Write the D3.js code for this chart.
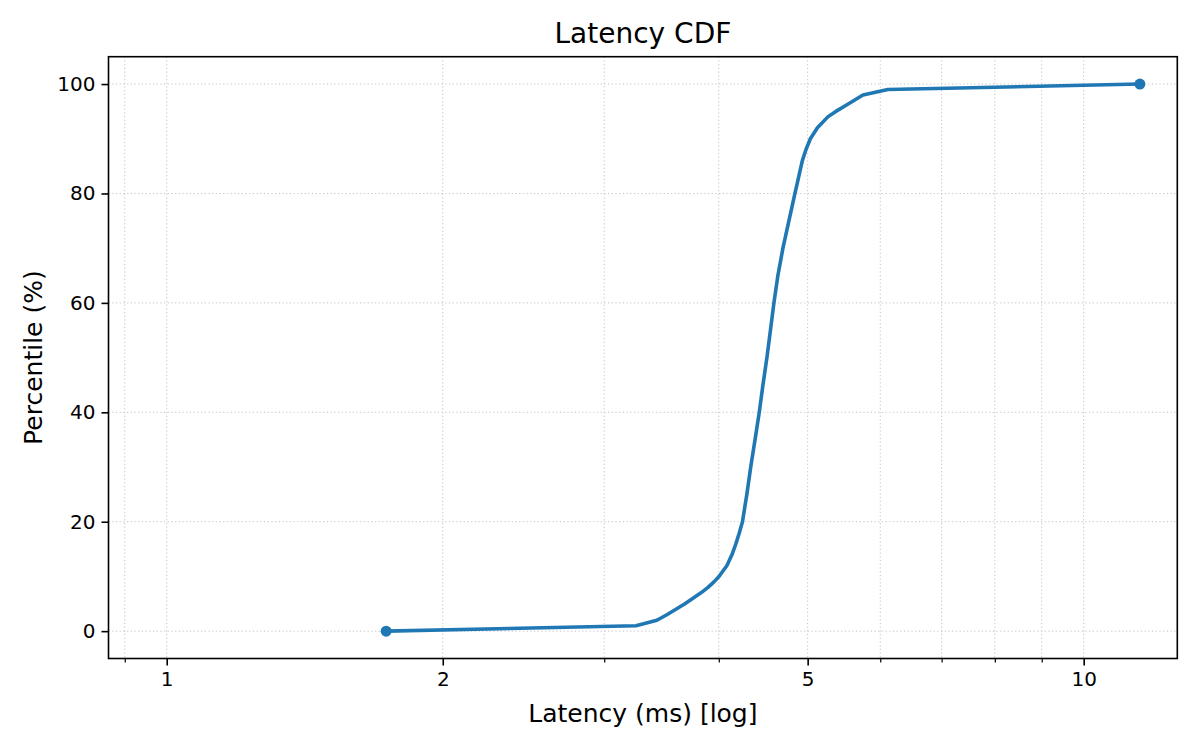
<!DOCTYPE html>
<html>
<head>
<meta charset="utf-8">
<script src="https://cdn.jsdelivr.net/npm/d3@7"></script>
<style>
  body { margin: 0; background: #fff; }
  text { font-family: "DejaVu Sans", sans-serif; fill: #000; }
</style>
</head>
<body>
<svg id="drawing_region"></svg>
<script>
// percentile (%) vs latency (ms)
const percentiles = [0, 1, 2, 3, 4, 5, 6, 7, 8, 9, 10, 12, 14, 16, 18, 20, 25, 30, 35, 40,
                     45, 50, 55, 60, 65, 70, 75, 80, 82, 84, 86, 88, 90, 92, 94, 95, 96, 97, 98, 99, 100];
const latencies = [1.735, 3.249, 3.424, 3.511, 3.592, 3.674, 3.749, 3.825, 3.893, 3.952, 4.002,
                   4.083, 4.135, 4.176, 4.212, 4.245, 4.292, 4.334, 4.381, 4.428,
                   4.469, 4.514, 4.554, 4.594, 4.640, 4.699, 4.770, 4.843, 4.873, 4.903, 4.934,
                   4.978, 5.034, 5.124, 5.260, 5.367, 5.490, 5.616, 5.745, 6.116, 11.516];

const xMajorTicks = [1, 2, 5, 10];
const xMinorTicks = [0.9, 3, 4, 6, 7, 8, 9];
const yTicks = [0, 20, 40, 60, 80, 100];

const config = {
    width: 1200,
    height: 750,
    margin: {top: 56.7, right: 22.7, bottom: 91.5, left: 108.5}
};

const data = percentiles.map((p, i) => ({p: p, v: latencies[i]}));

const svg = d3.select('#drawing_region')
    .attr('width', config.width)
    .attr('height', config.height);

const inner_width = config.width - config.margin.left - config.margin.right;
const inner_height = config.height - config.margin.top - config.margin.bottom;

const chart = svg.append('g')
    .attr('transform', `translate(${config.margin.left}, ${config.margin.top})`);

const xscale = d3.scaleLog()
    .domain([0.864, 12.65])
    .range([0, inner_width]);

const yscale = d3.scaleLinear()
    .domain([-5, 105])
    .range([inner_height, 0]);

// grid
const grid = chart.append('g')
    .attr('stroke', '#c6c6c6')
    .attr('stroke-width', 1)
    .attr('stroke-dasharray', '1.3,2.4');

grid.selectAll('.gx')
    .data(xMajorTicks.concat(xMinorTicks))
    .enter()
    .append('line')
    .attr('x1', d => xscale(d)).attr('x2', d => xscale(d))
    .attr('y1', 0).attr('y2', inner_height);

grid.selectAll('.gy')
    .data(yTicks)
    .enter()
    .append('line')
    .attr('x1', 0).attr('x2', inner_width)
    .attr('y1', d => yscale(d)).attr('y2', d => yscale(d));

// axes
const xaxis = d3.axisBottom(xscale)
    .tickValues(xMajorTicks)
    .tickFormat(d3.format('d'))
    .tickSize(7)
    .tickPadding(6)
    .tickSizeOuter(0);

const xaxis_minor = d3.axisBottom(xscale)
    .tickValues(xMinorTicks)
    .tickFormat('')
    .tickSize(4)
    .tickSizeOuter(0);

const yaxis = d3.axisLeft(yscale)
    .tickValues(yTicks)
    .tickSize(7)
    .tickPadding(6)
    .tickSizeOuter(0);

const xg = chart.append('g')
    .attr('transform', `translate(0, ${inner_height})`)
    .call(xaxis);
const xmg = chart.append('g')
    .attr('transform', `translate(0, ${inner_height})`)
    .call(xaxis_minor);
const yg = chart.append('g').call(yaxis);

[xg, xmg, yg].forEach(g => {
    g.select('.domain').remove();
    g.selectAll('.tick line').attr('stroke', '#000');
    g.selectAll('text').attr('font-size', '20px').attr('font-family', '"DejaVu Sans", sans-serif');
});
xg.selectAll('.tick line').attr('stroke-width', 1.6);
xmg.selectAll('.tick line').attr('stroke-width', 1.2);
yg.selectAll('.tick line').attr('stroke-width', 1.6);

// frame
chart.append('rect')
    .attr('x', 0).attr('y', 0)
    .attr('width', inner_width).attr('height', inner_height)
    .attr('fill', 'none')
    .attr('stroke', '#000')
    .attr('stroke-width', 1.6);

// line
const line = d3.line()
    .x(d => xscale(d.v))
    .y(d => yscale(d.p));

chart.append('path')
    .datum(data)
    .attr('fill', 'none')
    .attr('stroke', '#1f77b4')
    .attr('stroke-width', 3.6)
    .attr('stroke-linejoin', 'round')
    .attr('d', line);

// end markers
chart.selectAll('circle')
    .data([data[0], data[data.length - 1]])
    .enter()
    .append('circle')
    .attr('cx', d => xscale(d.v))
    .attr('cy', d => yscale(d.p))
    .attr('r', 5.5)
    .attr('fill', '#1f77b4');

// texts
svg.append('text')
    .attr('x', config.margin.left + inner_width / 2)
    .attr('y', 43.3)
    .attr('text-anchor', 'middle')
    .attr('font-size', '28px')
    .text('Latency CDF');

svg.append('text')
    .attr('x', config.margin.left + inner_width / 2)
    .attr('y', 721.5)
    .attr('text-anchor', 'middle')
    .attr('font-size', '25px')
    .text('Latency (ms) [log]');

svg.append('text')
    .attr('transform', `translate(42, ${config.margin.top + inner_height / 2}) rotate(-90)`)
    .attr('text-anchor', 'middle')
    .attr('font-size', '25px')
    .text('Percentile (%)');
</script>
</body>
</html>
